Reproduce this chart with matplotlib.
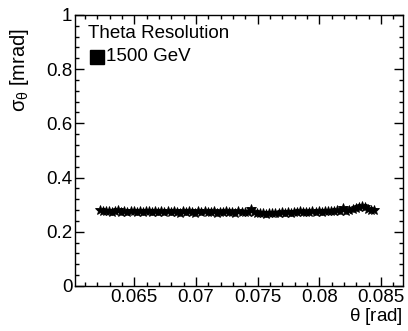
import numpy as np
import matplotlib
matplotlib.use("Agg")
import matplotlib.pyplot as plt
from matplotlib.ticker import MultipleLocator

plt.rcParams['font.family'] = ['Liberation Sans', 'DejaVu Sans']
plt.rcParams['mathtext.fontset'] = 'custom'
plt.rcParams['mathtext.rm'] = 'Liberation Sans'
plt.rcParams['mathtext.it'] = 'Liberation Sans'

# theta bin centres [rad]
theta = [0.06220, 0.06245, 0.06270, 0.06295, 0.06320, 0.06345, 0.06370, 0.06395, 0.06420, 0.06445,
         0.06470, 0.06495, 0.06520, 0.06545, 0.06570, 0.06595, 0.06620, 0.06645, 0.06670, 0.06695,
         0.06720, 0.06745, 0.06770, 0.06795, 0.06820, 0.06845, 0.06870, 0.06895, 0.06920, 0.06945,
         0.06970, 0.06995, 0.07020, 0.07045, 0.07070, 0.07095, 0.07120, 0.07145, 0.07170, 0.07195,
         0.07220, 0.07245, 0.07270, 0.07295, 0.07320, 0.07345, 0.07370, 0.07395, 0.07420, 0.07445,
         0.07470, 0.07495, 0.07520, 0.07545, 0.07570, 0.07595, 0.07620, 0.07645, 0.07670, 0.07695,
         0.07720, 0.07745, 0.07770, 0.07795, 0.07820, 0.07845, 0.07870, 0.07895, 0.07920, 0.07945,
         0.07970, 0.07995, 0.08020, 0.08045, 0.08070, 0.08095, 0.08120, 0.08145, 0.08170, 0.08195,
         0.08220, 0.08245, 0.08270, 0.08295, 0.08320, 0.08345, 0.08370, 0.08395, 0.08420, 0.08445]

# theta resolution [mrad], 1500 GeV
sigma = [0.280, 0.277, 0.275, 0.278, 0.274, 0.276, 0.279, 0.274, 0.276, 0.273,
         0.275, 0.277, 0.273, 0.276, 0.274, 0.275, 0.278, 0.272, 0.276, 0.273,
         0.277, 0.274, 0.275, 0.272, 0.276, 0.274, 0.270, 0.275, 0.273, 0.276,
         0.274, 0.271, 0.275, 0.273, 0.276, 0.272, 0.274, 0.275, 0.271, 0.274,
         0.273, 0.275, 0.272, 0.274, 0.271, 0.275, 0.273, 0.272, 0.274, 0.284,
         0.272, 0.270, 0.268, 0.271, 0.265, 0.270, 0.268, 0.271, 0.269, 0.272,
         0.270, 0.273, 0.271, 0.274, 0.272, 0.275, 0.273, 0.272, 0.274, 0.275,
         0.273, 0.276, 0.274, 0.277, 0.276, 0.278, 0.277, 0.279, 0.278, 0.286,
         0.277, 0.281, 0.285, 0.289, 0.292, 0.294, 0.290, 0.283, 0.281, 0.279]

xticks = [0.065, 0.07, 0.075, 0.08, 0.085]
xticklabels = ['0.065', '0.07', '0.075', '0.08', '0.085']
yticks = [0, 0.2, 0.4, 0.6, 0.8, 1]
yticklabels = ['0', '0.2', '0.4', '0.6', '0.8', '1']

fig = plt.figure(figsize=(4.08, 3.31), dpi=100)
ax = fig.add_axes([0.184, 0.136, 0.804, 0.819])

ax.plot(theta, sigma, linestyle='none', marker='*', markersize=7,
        color='black', markeredgewidth=0.6)

ax.set_xlim(0.0602, 0.0868)
ax.set_ylim(0, 1)
ax.set_xticks(xticks)
ax.set_xticklabels(xticklabels)
ax.set_yticks(yticks)
ax.set_yticklabels(yticklabels)
ax.xaxis.set_minor_locator(MultipleLocator(0.001))
ax.yaxis.set_minor_locator(MultipleLocator(0.04))

ax.tick_params(which='both', direction='in', top=True, right=True,
               labelsize=13.5, width=1, pad=2)
ax.tick_params(which='major', length=6.5)
ax.tick_params(which='minor', length=3.2)
for s in ax.spines.values():
    s.set_linewidth(1)

ax.set_xlabel(r'$\theta$ [rad]', fontsize=13.5, loc='right', labelpad=0)
ax.set_ylabel(r'$\sigma_{\theta}$ [mrad]', fontsize=14.5, ha='center', va='center')
ax.yaxis.set_label_coords(-0.168, 0.797)

ax.text(0.04, 0.933, 'Theta Resolution', transform=ax.transAxes,
        fontsize=13.5, va='center', ha='left')
ax.plot([0.068], [0.845], transform=ax.transAxes, marker='s', markersize=10,
        color='black', clip_on=False)
ax.text(0.095, 0.845, '1500 GeV', transform=ax.transAxes,
        fontsize=13.5, va='center', ha='left')

fig.savefig('out.png', dpi=100)
